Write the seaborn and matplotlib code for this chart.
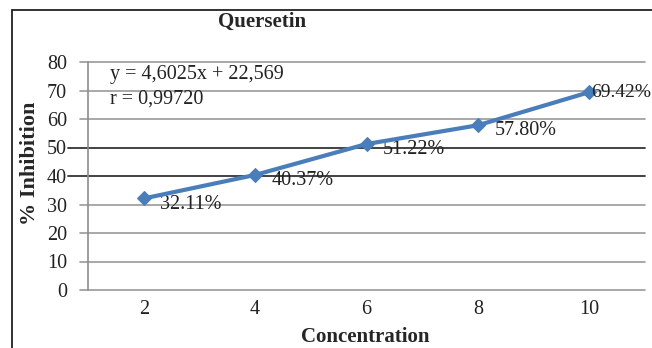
import matplotlib
matplotlib.use("Agg")
import matplotlib.pyplot as plt
import seaborn as sns
import pandas as pd
from matplotlib.lines import Line2D

concentration = [2, 4, 6, 8, 10]
inhibition = [32.11, 40.37, 51.22, 57.80, 69.42]
point_labels = ["32.11%", "40.37%", "51.22%", "57.80%", "69.42%"]
y_ticks = [0, 10, 20, 30, 40, 50, 60, 70, 80]
dark_grid = [40, 50]
title = "Quersetin"
x_label = "Concentration"
y_label = "% Inhibition"
equation_lines = ["y = 4,6025x + 22,569", "r = 0,99720"]

sns.set_theme(style="white")
plt.rcParams["font.family"] = ["Liberation Serif", "DejaVu Serif"]

df = pd.DataFrame({"Concentration": concentration, "Inhibition": inhibition})

fig = plt.figure(figsize=(6.52, 3.48), dpi=100)
W, H = 652, 348
ax = fig.add_axes([88 / W, (H - 290) / H, (645 - 88) / W, (290 - 62) / H])

# outer border (top and left edges visible)
fig.add_artist(Line2D([12 / W, 1.0], [(H - 10) / H, (H - 10) / H], transform=fig.transFigure,
                      color="#222222", linewidth=1.3))
fig.add_artist(Line2D([12 / W, 12 / W], [0, (H - 10) / H], transform=fig.transFigure,
                      color="#222222", linewidth=1.3))

blue = "#4a7ebb"
sns.lineplot(data=df, x="Concentration", y="Inhibition", ax=ax, color=blue, linewidth=3,
             marker="D", markersize=7, markeredgecolor=blue, zorder=5)

ax.set_xlim(1, 11)
ax.set_ylim(0, 80)
ax.set_xticks(concentration)
ax.set_yticks(y_ticks)
ax.tick_params(axis="both", length=0, labelsize=14.5)
ax.tick_params(axis="y", pad=15)
ax.tick_params(axis="x", pad=7)
for lab in ax.get_xticklabels() + ax.get_yticklabels():
    lab.set_color("#222222")

for s in ["top", "right", "bottom"]:
    ax.spines[s].set_visible(False)
ax.spines["left"].set_color("#8c8c8c")
ax.spines["left"].set_linewidth(1.2)

trans = ax.get_yaxis_transform()
for v in y_ticks:
    if v in dark_grid:
        ax.plot([-0.036, 1], [v, v], transform=trans, clip_on=False, color="#333333", lw=1.3, zorder=1)
    else:
        ax.plot([-0.015, 1], [v, v], transform=trans, clip_on=False, color="#9a9a9a", lw=1.2, zorder=1)

for i, (xv, yv, lab) in enumerate(zip(concentration, inhibition, point_labels)):
    if i == len(concentration) - 1:
        ax.annotate(lab, (xv, yv), xytext=(1, 0), textcoords="offset points",
                    ha="left", va="center", fontsize=14, color="#222222", annotation_clip=False,
                    zorder=6)
    else:
        ax.annotate(lab, (xv, yv), xytext=(12, -4), textcoords="offset points",
                    ha="left", va="center", fontsize=14.5, color="#222222")

ax.text(110 / W, (H - 75) / H, equation_lines[0], transform=fig.transFigure, fontsize=14.5,
        va="center", ha="left", color="#222222")
ax.text(110 / W, (H - 99) / H, equation_lines[1], transform=fig.transFigure, fontsize=14.5,
        va="center", ha="left", color="#222222")

ax.set_xlabel("")
ax.set_ylabel("")
fig.text(262 / W, (H - 22) / H, title, ha="center", va="center", fontsize=15, fontweight="bold")
fig.text(365 / W, (H - 337) / H, x_label, ha="center", va="center", fontsize=15, fontweight="bold")
fig.text(30 / W, (H - 163) / H, y_label, ha="center", va="center", fontsize=16, fontweight="bold",
         rotation=90)

fig.savefig("out.png", dpi=100)
